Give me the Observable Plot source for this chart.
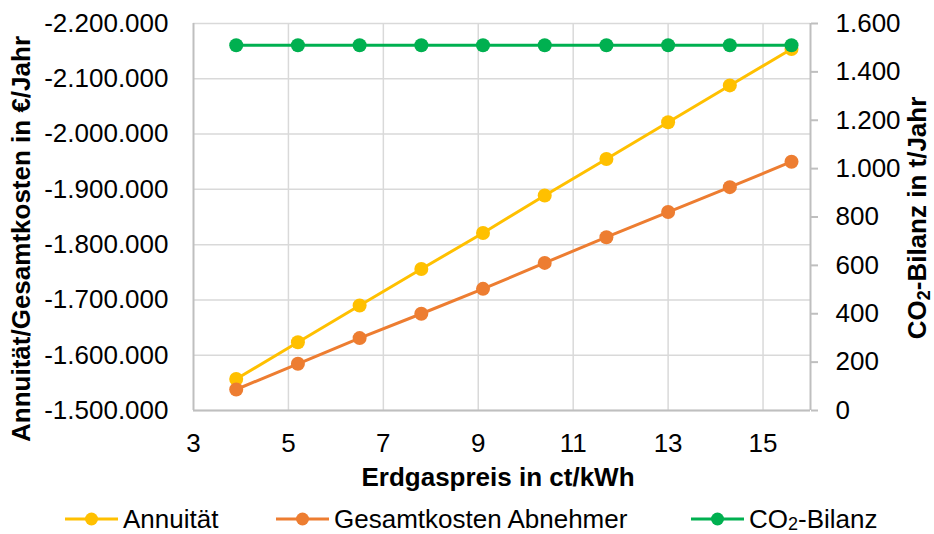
<!DOCTYPE html>
<html lang="de">
<head>
<meta charset="utf-8">
<script src="https://cdn.jsdelivr.net/npm/d3@7"></script>
<script src="https://cdn.jsdelivr.net/npm/@observablehq/plot@0.6"></script>
<style>
  body { margin: 0; background: #fff; font-family: "Liberation Sans", Arial, sans-serif; }
  #chart { position: relative; width: 934px; height: 534px; }
  .legend { position: relative; height: 28px; margin-top: 5px; font-size: 26px; line-height: 1; color: #000; }
  .legend .item { position: absolute; top: 0; height: 28px; display: flex; align-items: center; white-space: nowrap; }
  .legend svg { display: block; margin-right: 5px; }
  .legend .sub { font-size: 18px; position: relative; top: 2px; }
</style>
</head>
<body>
<div id="chart"></div>
<script>
// Erdgaspreis (ct/kWh) on the x axis
const erdgaspreis = [3.9, 5.2, 6.5, 7.8, 9.1, 10.4, 11.7, 13.0, 14.3, 15.6];
// Annuität and Gesamtkosten Abnehmer in €/Jahr (left axis, reversed)
const annuitaet = [-1557000, -1623500, -1690000, -1756000, -1821000, -1889000, -1955000, -2021500, -2088000, -2154000];
const gesamtkosten = [-1538000, -1584500, -1631000, -1675000, -1720000, -1767000, -1813500, -1859000, -1904000, -1950000];
// CO2-Bilanz in t/Jahr (right axis)
const co2Bilanz = [1510, 1510, 1510, 1510, 1510, 1510, 1510, 1510, 1510, 1510];

const xTicks = [3, 5, 7, 9, 11, 13, 15];
const yTicks = [-1500000, -1600000, -1700000, -1800000, -1900000, -2000000, -2100000, -2200000];
const y2Ticks = [0, 200, 400, 600, 800, 1000, 1200, 1400, 1600];

const seriesNames = ["Annuität", "Gesamtkosten Abnehmer", "CO2-Bilanz"];
const seriesColors = ["#FFC000", "#ED7D31", "#00B050"];
const legendLeft = [65, 276, 691];

const xDomain = [3, 16];
const yDomain = [-1500000, -2200000];
const y2Domain = [0, 1600];

// German number format: "." as thousands separator, plain hyphen as minus
const de = d3.formatLocale({decimal: ",", thousands: ".", grouping: [3], currency: ["", " €"], minus: "-"});
const fmt = de.format(",d");

// secondary axis values are mapped onto the primary y scale
const y2 = d3.scaleLinear().domain(y2Domain).range(yDomain);

const rows = erdgaspreis.map((p, i) => ({
  p,
  annuitaet: annuitaet[i],
  gesamtkosten: gesamtkosten[i],
  co2: y2(co2Bilanz[i])
}));

const W = 934, H = 500;
const gridColor = "#d9d9d9", axisColor = "#bfbfbf";

const plot = Plot.plot({
  width: W,
  height: H,
  marginLeft: 193,
  marginRight: 124,
  marginTop: 23,
  marginBottom: 90,
  style: {fontFamily: "'Liberation Sans', Arial, sans-serif", fontSize: "26px", background: "#fff", color: "#000"},
  x: {domain: xDomain},
  y: {domain: yDomain},
  marks: [
    Plot.gridX(xTicks.slice(1), {stroke: gridColor, strokeOpacity: 1, strokeWidth: 1.5}),
    Plot.gridY(yTicks, {stroke: gridColor, strokeOpacity: 1, strokeWidth: 1.5}),
    Plot.ruleX([xDomain[0]], {stroke: axisColor, strokeWidth: 2}),
    Plot.ruleX([xDomain[1]], {stroke: axisColor, strokeWidth: 2}),
    Plot.ruleY([yDomain[0]], {stroke: axisColor, strokeWidth: 2}),
    Plot.axisX(xTicks, {anchor: "bottom", tickSize: 0, tickPadding: 23, fontSize: 26, label: null, tickFormat: d => String(d)}),
    Plot.axisY(yTicks, {anchor: "left", tickSize: 0, tickPadding: 25, fontSize: 26, label: null, tickFormat: fmt}),
    Plot.axisY(y2Ticks.map(y2), {anchor: "right", tickSize: 7, tickPadding: 18, fontSize: 26, label: null,
      stroke: axisColor, strokeWidth: 2, tickFormat: d => fmt(Math.round(y2.invert(d)))}),
    Plot.line(rows, {x: "p", y: "annuitaet", stroke: seriesColors[0], strokeWidth: 3}),
    Plot.dot(rows, {x: "p", y: "annuitaet", r: 7, fill: seriesColors[0]}),
    Plot.line(rows, {x: "p", y: "gesamtkosten", stroke: seriesColors[1], strokeWidth: 3}),
    Plot.dot(rows, {x: "p", y: "gesamtkosten", r: 7, fill: seriesColors[1]}),
    Plot.line(rows, {x: "p", y: "co2", stroke: seriesColors[2], strokeWidth: 3}),
    Plot.dot(rows, {x: "p", y: "co2", r: 7, fill: seriesColors[2]})
  ]
});

// axis titles
const svg = d3.select(plot);
svg.append("text")
  .attr("x", 498).attr("y", 486)
  .attr("text-anchor", "middle")
  .attr("font-size", 26).attr("font-weight", "bold").attr("fill", "#000")
  .text("Erdgaspreis in ct/kWh");
svg.append("text")
  .attr("transform", "translate(30,239) rotate(-90)")
  .attr("text-anchor", "middle")
  .attr("font-size", 26).attr("font-weight", "bold").attr("fill", "#000")
  .text("Annuität/Gesamtkosten in €/Jahr");
const t2 = svg.append("text")
  .attr("transform", "translate(926,218) rotate(-90)")
  .attr("text-anchor", "middle")
  .attr("font-size", 26).attr("font-weight", "bold").attr("fill", "#000");
t2.append("tspan").text("CO");
t2.append("tspan").attr("font-size", 18).attr("dy", 4).text("2");
t2.append("tspan").attr("dy", -4).text("-Bilanz in t/Jahr");

const chart = document.getElementById("chart");
chart.appendChild(plot);

// legend below the plot
const legend = d3.select(chart).append("div").attr("class", "legend");
seriesNames.forEach((name, i) => {
  const item = legend.append("div").attr("class", "item").style("left", legendLeft[i] + "px");
  const s = item.append("svg").attr("width", 53).attr("height", 20);
  s.append("line").attr("x1", 0).attr("x2", 53).attr("y1", 10).attr("y2", 10)
    .attr("stroke", seriesColors[i]).attr("stroke-width", 3);
  s.append("circle").attr("cx", 26.5).attr("cy", 10).attr("r", 6.5).attr("fill", seriesColors[i]);
  const label = item.append("span");
  if (name.startsWith("CO2")) {
    label.append("span").text("CO");
    label.append("span").attr("class", "sub").text("2");
    label.append("span").text(name.slice(3));
  } else {
    label.text(name);
  }
});
</script>
</body>
</html>
